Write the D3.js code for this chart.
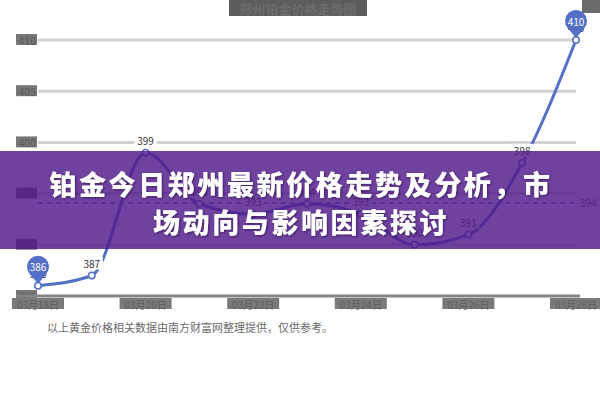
<!DOCTYPE html>
<html>
<head>
<meta charset="utf-8">
<script src="https://cdn.jsdelivr.net/npm/d3@7"></script>
<style>
  body { margin: 0; background: #fff; }
  svg { display: block; font-family: "Noto Sans CJK SC", "Noto Sans", sans-serif; }
</style>
</head>
<body>
<svg id="chart" width="600" height="400"></svg>
<script>
// data
const dates = ["03月18日", "03月19日", "03月20日", "03月21日", "03月22日", "03月23日",
  "03月24日", "03月25日", "03月26日", "03月27日", "03月28日"];
const prices = [386, 387, 399, 394, 393, 394, 393, 390, 391, 398, 410];
const yTicks = [385, 390, 395, 400, 405, 410];
const chartTitle = "郑州铂金价格走势图";
const bannerLines = ["铂金今日郑州最新价格走势及分析，市", "场动向与影响因素探讨"];
const footNote = "以上黄金价格相关数据由南方财富网整理提供，仅供参考。";

const width = 600;
const height = 400;
const plotLeft = 38, plotRight = 576, plotTop = 40, plotBottom = 296;
const blue = "#5470c6";

const svg = d3.select("#chart").attr("viewBox", [0, 0, width, height]);

const defs = svg.append("defs");
defs.append("filter")
  .attr("id", "shadow")
  .append("feDropShadow")
  .attr("dx", 1).attr("dy", 1).attr("stdDeviation", 1)
  .attr("flood-color", "#2a0c4a").attr("flood-opacity", 0.7);

const xScale = d3.scalePoint().domain(dates).range([plotLeft, plotRight]);
const yScale = d3.scaleLinear().domain([385, 410]).range([plotBottom, plotTop]);

// blurred chart title up top
svg.append("rect")
  .attr("x", 229).attr("y", 0).attr("width", 138).attr("height", 16)
  .attr("fill", "#5c5c5c");
svg.append("text")
  .attr("x", 298).attr("y", 8)
  .attr("text-anchor", "middle").attr("dominant-baseline", "central")
  .attr("font-size", 13).attr("font-weight", "bold")
  .attr("fill", "#6c6c6c")
  .text(chartTitle);
svg.append("rect")
  .attr("x", 582).attr("y", 0).attr("width", 18).attr("height", 13)
  .attr("fill", "#6a6a6a");

// grid lines
svg.append("g")
  .selectAll("line")
  .data(yTicks.slice(1))
  .enter()
  .append("line")
  .attr("x1", plotLeft).attr("x2", plotRight)
  .attr("y1", (d) => yScale(d)).attr("y2", (d) => yScale(d))
  .attr("stroke", "#d2d2d2")
  .attr("stroke-width", 3);

// y labels (mosaic look: grey box + text)
const yLab = svg.append("g").selectAll("g").data(yTicks).enter().append("g");
yLab.append("rect")
  .attr("x", 16).attr("y", (d) => yScale(d) - 6)
  .attr("width", 21).attr("height", 11)
  .attr("fill", "#777");
yLab.append("text")
  .attr("x", 36).attr("y", (d) => yScale(d))
  .attr("text-anchor", "end").attr("dominant-baseline", "central")
  .attr("font-size", 10.5).attr("fill", "#5a5a5a")
  .text((d) => d);

// x axis
svg.append("line")
  .attr("x1", 16).attr("x2", 580)
  .attr("y1", plotBottom).attr("y2", plotBottom)
  .attr("stroke", "#858585").attr("stroke-width", 3);

const xLab = svg.append("g")
  .selectAll("g")
  .data(dates.filter((d, i) => i % 2 === 0))
  .enter()
  .append("g");
xLab.append("rect")
  .attr("x", (d) => xScale(d) - 26).attr("y", 298)
  .attr("width", 52).attr("height", 11)
  .attr("fill", "#7a7a7a");
xLab.append("text")
  .attr("x", (d) => xScale(d)).attr("y", 304)
  .attr("text-anchor", "middle").attr("dominant-baseline", "central")
  .attr("font-size", 10).attr("fill", "#5e5e5e")
  .text((d) => d);

// average mark line
const avg = d3.mean(prices);
svg.append("line")
  .attr("x1", plotLeft).attr("x2", plotRight)
  .attr("y1", yScale(avg)).attr("y2", yScale(avg))
  .attr("stroke", blue).attr("stroke-width", 1.5)
  .attr("stroke-dasharray", "5,4");
svg.append("rect")
  .attr("x", 578).attr("y", yScale(avg) - 7)
  .attr("width", 40).attr("height", 14)
  .attr("fill", "#f0f0f0");
svg.append("text")
  .attr("x", 580).attr("y", yScale(avg))
  .attr("dominant-baseline", "central")
  .attr("font-size", 10).attr("fill", "#666")
  .text(avg.toFixed(2));

// price line
const line = d3.line()
  .curve(d3.curveMonotoneX)
  .x((d, i) => xScale(dates[i]))
  .y((d) => yScale(d));

svg.append("path")
  .datum(prices)
  .attr("fill", "none")
  .attr("stroke", blue)
  .attr("stroke-width", 3)
  .attr("d", line);

svg.append("g")
  .selectAll("circle")
  .data(prices)
  .enter()
  .append("circle")
  .attr("cx", (d, i) => xScale(dates[i]))
  .attr("cy", (d) => yScale(d))
  .attr("r", 3.2)
  .attr("fill", "#fff")
  .attr("stroke", blue)
  .attr("stroke-width", 1.5);

// value labels
const vLab = svg.append("g").selectAll("g").data(prices).enter().append("g");
vLab.append("rect")
  .attr("x", (d, i) => xScale(dates[i]) - 11)
  .attr("y", (d) => yScale(d) - 19)
  .attr("width", 22).attr("height", 13)
  .attr("fill", "#fff");
vLab.append("text")
  .attr("x", (d, i) => xScale(dates[i]))
  .attr("y", (d) => yScale(d) - 12.5)
  .attr("text-anchor", "middle").attr("dominant-baseline", "central")
  .attr("font-size", 10).attr("fill", "#333")
  .text((d) => d);

// min / max pins
function pinPath(cx, py) {
  const r = 11, cy = py - 19, dist = 17;
  const phi = Math.acos(r / dist);
  const p = d3.path();
  p.moveTo(cx, py - 2);
  p.arc(cx, cy, r, Math.PI / 2 + phi, 2 * Math.PI + Math.PI / 2 - phi, false);
  p.closePath();
  return p.toString();
}
const extremes = [d3.minIndex(prices), d3.maxIndex(prices)];
const pins = svg.append("g").selectAll("g").data(extremes).enter().append("g");
pins.append("path")
  .attr("d", (i) => pinPath(xScale(dates[i]), yScale(prices[i])))
  .attr("fill", blue);
pins.append("text")
  .attr("x", (i) => xScale(dates[i]))
  .attr("y", (i) => yScale(prices[i]) - 19)
  .attr("text-anchor", "middle").attr("dominant-baseline", "central")
  .attr("font-size", 10).attr("fill", "#fff")
  .text((i) => prices[i]);

// purple banner laid over the chart
svg.append("rect")
  .attr("x", 0).attr("y", 151)
  .attr("width", width).attr("height", 98)
  .attr("fill", "#50198a")
  .attr("opacity", 0.82);

svg.append("g")
  .selectAll("text")
  .data(bannerLines)
  .enter()
  .append("text")
  .attr("x", width / 2 + 1)
  .attr("y", (d, i) => 183 + i * 38)
  .attr("text-anchor", "middle").attr("dominant-baseline", "central")
  .attr("font-size", 27).attr("font-weight", 900)
  .attr("letter-spacing", 2.6)
  .attr("fill", "#fff")
  .attr("filter", "url(#shadow)")
  .text((d) => d);

// source note
svg.append("text")
  .attr("x", 47).attr("y", 327)
  .attr("dominant-baseline", "central")
  .attr("font-size", 11).attr("fill", "#6a6a6a")
  .text(footNote);
</script>
</body>
</html>
